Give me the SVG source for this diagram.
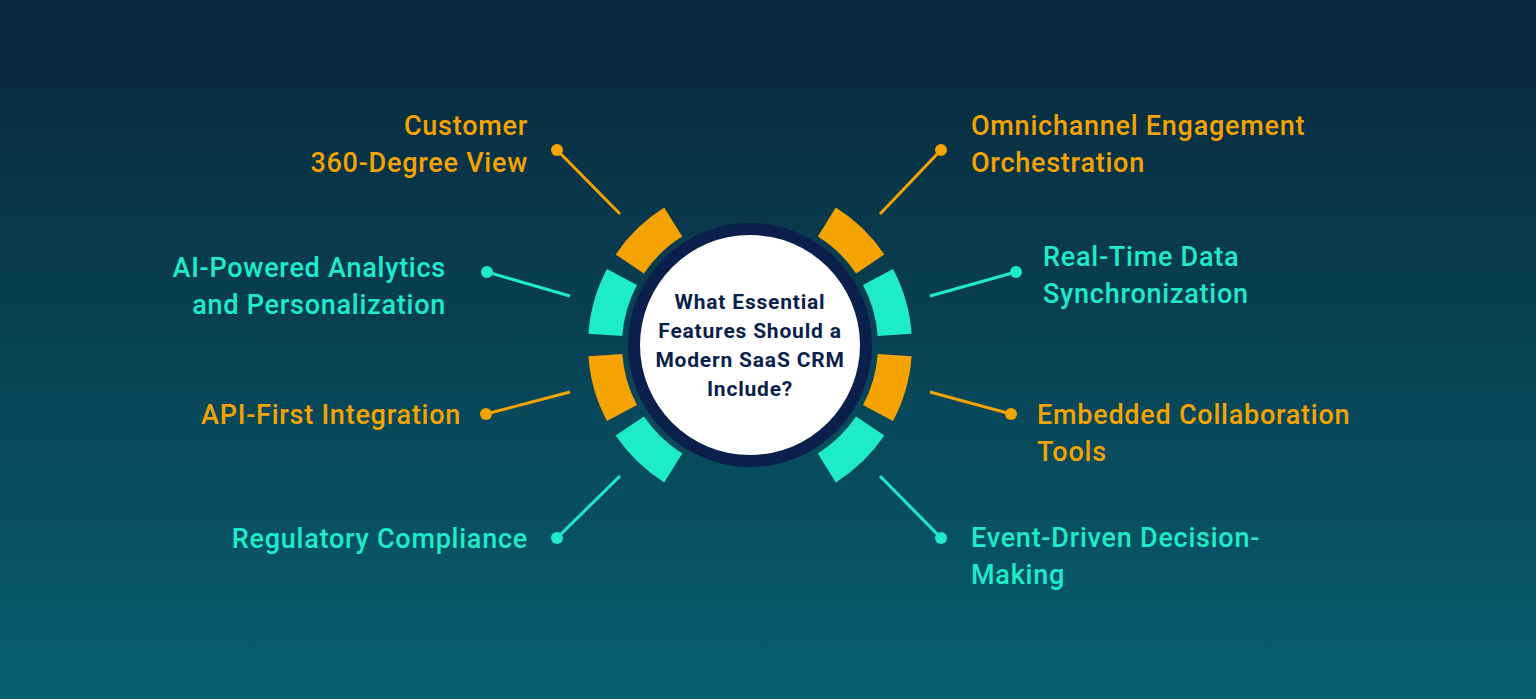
<svg xmlns="http://www.w3.org/2000/svg" width="1536" height="699" viewBox="0 0 1536 699">
<defs>
<linearGradient id="bg" x1="0" y1="0" x2="0" y2="1"><stop offset="0" stop-color="#0A263A"/><stop offset="1" stop-color="#065F70"/></linearGradient>
<path id="A" d="M161.6,-11.3 A162,162 0 0 0 143.0,-76.1 L113.0,-60.1 A128,128 0 0 1 127.7,-8.9 Z"/>
<path id="B" d="M134.3,-90.6 A162,162 0 0 0 85.8,-137.4 L67.8,-108.5 A128,128 0 0 1 106.1,-71.6 Z"/>
</defs>
<style>
.o{fill:#F5A300}.t{fill:#1EEBC9}
.lo{stroke:#F5A300;stroke-width:3}.lt{stroke:#1EEBC9;stroke-width:3}
.lbl{font-family:Roboto,"Noto Sans",sans-serif;font-size:27px;font-weight:500;letter-spacing:0.75px}
.c{font-family:Roboto,"Noto Sans",sans-serif;font-size:21px;font-weight:700;fill:#0B1F4D;text-anchor:middle;letter-spacing:0.8px}
</style>
<rect width="1536" height="699" fill="url(#bg)"/>
<g id="hub" transform="translate(750,345)">
<circle r="122" fill="#0B1F4D"/><circle r="110" fill="#fff"/>
<use href="#A" class="t"/><use href="#B" class="o"/>
<use href="#A" class="t" transform="scale(-1,1)"/><use href="#B" class="o" transform="scale(-1,1)"/>
<use href="#A" class="o" transform="scale(1,-1)"/><use href="#B" class="t" transform="scale(1,-1)"/>
<use href="#A" class="o" transform="scale(-1,-1)"/><use href="#B" class="t" transform="scale(-1,-1)"/>
<text class="c" y="-36">What Essential</text><text class="c" y="-7">Features Should a</text><text class="c" y="22">Modern SaaS CRM</text><text class="c" y="51">Include?</text>
</g>
<g id="connectors">
<line class="lo" x1="557" y1="150" x2="620" y2="214"/><circle class="o" cx="557" cy="150" r="6"/>
<line class="lt" x1="487" y1="272" x2="570" y2="296"/><circle class="t" cx="487" cy="272" r="6"/>
<line class="lo" x1="486" y1="414" x2="570" y2="392"/><circle class="o" cx="486" cy="414" r="6"/>
<line class="lt" x1="557" y1="538" x2="620" y2="476"/><circle class="t" cx="557" cy="538" r="6"/>
<line class="lo" x1="941" y1="150" x2="880" y2="214"/><circle class="o" cx="941" cy="150" r="6"/>
<line class="lt" x1="1016" y1="272" x2="930" y2="296"/><circle class="t" cx="1016" cy="272" r="6"/>
<line class="lo" x1="1011" y1="414" x2="930" y2="392"/><circle class="o" cx="1011" cy="414" r="6"/>
<line class="lt" x1="941" y1="538" x2="880" y2="476"/><circle class="t" cx="941" cy="538" r="6"/>
</g>
<g id="n1" class="lbl o" text-anchor="end"><text x="528" y="135">Customer</text><text x="528" y="172">360-Degree View</text></g>
<g id="n2" class="lbl t" text-anchor="end"><text x="446" y="277">AI-Powered Analytics</text><text x="446" y="314">and Personalization</text></g>
<g id="n3" class="lbl o" text-anchor="end"><text x="461" y="424">API-First Integration</text></g>
<g id="n4" class="lbl t" text-anchor="end"><text x="528" y="548">Regulatory Compliance</text></g>
<g id="n5" class="lbl o"><text x="971" y="135">Omnichannel Engagement</text><text x="971" y="172">Orchestration</text></g>
<g id="n6" class="lbl t"><text x="1043" y="266">Real-Time Data</text><text x="1043" y="303">Synchronization</text></g>
<g id="n7" class="lbl o"><text x="1037" y="424">Embedded Collaboration</text><text x="1037" y="461">Tools</text></g>
<g id="n8" class="lbl t"><text x="971" y="547">Event-Driven Decision-</text><text x="971" y="584">Making</text></g>
</svg>
